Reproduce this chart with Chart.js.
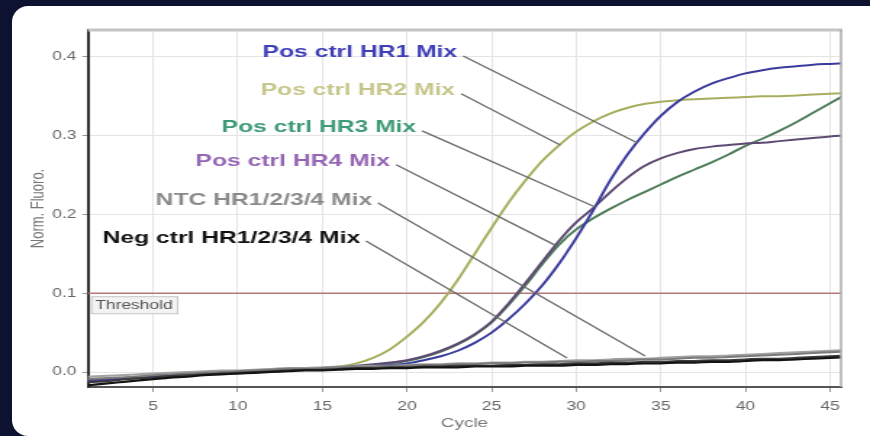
<!DOCTYPE html>
<html>
<head>
<meta charset="utf-8">
<script src="https://cdn.jsdelivr.net/npm/chart.js@4.4.1/dist/chart.umd.min.js"></script>
<style>
  html, body { margin: 0; padding: 0; background: #ffffff; overflow: hidden; }
  /* dark window edge along the left and top, with rounded inner corners */
  .edge { position: fixed; background: #0c1230; }
  #edgeL { left: 0; top: 0; bottom: 0; width: 12px; }
  #edgeT { left: 0; top: 0; right: 0; height: 6px; }
  .corner { position: fixed; width: 18px; height: 18px; background: #0c1230; }
  .corner div { width: 18px; height: 18px; background: #ffffff; }
  #cTL { left: 12px; top: 6px; }
  #cTL div { border-top-left-radius: 16px; }
  #cBL { left: 12px; bottom: 0; }
  #cBL div { border-bottom-left-radius: 16px; }
  /* the plot is laid out on a 600px wide stage and widened to the full panel */
  #stage { position: fixed; left: 0; top: 0; width: 600px; height: 436px; transform: scaleX(1.45); transform-origin: 0 0; }
</style>
</head>
<body>
<div class="edge" id="edgeL"></div>
<div class="edge" id="edgeT"></div>
<div class="corner" id="cTL"><div></div></div>
<div class="corner" id="cBL"><div></div></div>
<div id="stage"><canvas id="c"></canvas></div>
<script>
// ---- data ----------------------------------------------------------------
const cycles = [1,2,3,4,5,6,7,8,9,10,11,12,13,14,15,16,17,18,19,20,21,22,23,24,25,26,27,28,29,30,31,32,33,34,35,36,37,38,39,40,41,42,43,44,45,46];

const posHR1 = [-0.012,-0.011,-0.009,-0.008,-0.006,-0.005,-0.004,-0.003,-0.002,-0.001,
  0.000,0.001,0.002,0.003,0.004,0.005,0.006,0.008,0.009,0.011,
  0.015,0.020,0.027,0.037,0.050,0.067,0.087,0.110,0.138,0.170,
  0.205,0.243,0.275,0.302,0.325,0.343,0.356,0.366,0.373,0.379,
  0.383,0.386,0.388,0.390,0.391,0.392];

const posHR2 = [-0.011,-0.010,-0.008,-0.007,-0.005,-0.004,-0.003,-0.002,-0.001,0.000,
  0.001,0.002,0.003,0.004,0.005,0.007,0.011,0.018,0.029,0.045,
  0.064,0.088,0.117,0.150,0.183,0.215,0.243,0.268,0.288,0.305,
  0.318,0.328,0.335,0.340,0.343,0.345,0.346,0.347,0.348,0.349,
  0.350,0.350,0.351,0.352,0.353,0.354];

const posHR3 = [-0.010,-0.009,-0.008,-0.006,-0.005,-0.004,-0.003,-0.002,-0.001,0.000,
  0.001,0.002,0.003,0.004,0.005,0.006,0.007,0.009,0.011,0.014,
  0.019,0.026,0.035,0.047,0.063,0.085,0.110,0.137,0.162,0.181,
  0.195,0.207,0.218,0.228,0.238,0.248,0.257,0.266,0.276,0.287,
  0.296,0.306,0.317,0.329,0.341,0.353];

const posHR4 = [-0.011,-0.010,-0.008,-0.007,-0.005,-0.004,-0.003,-0.002,-0.001,0.000,
  0.001,0.002,0.003,0.004,0.005,0.006,0.008,0.010,0.012,0.015,
  0.020,0.027,0.036,0.048,0.064,0.087,0.113,0.140,0.167,0.190,
  0.208,0.228,0.246,0.261,0.271,0.278,0.283,0.286,0.288,0.290,
  0.291,0.293,0.295,0.297,0.299,0.300];

const ntcA = [-0.009,-0.008,-0.007,-0.006,-0.004,-0.003,-0.002,-0.001,0.000,0.001,
  0.002,0.003,0.004,0.004,0.005,0.006,0.006,0.007,0.008,0.008,
  0.009,0.009,0.010,0.010,0.011,0.011,0.012,0.012,0.013,0.013,
  0.014,0.014,0.015,0.016,0.016,0.017,0.018,0.018,0.019,0.020,
  0.021,0.022,0.023,0.024,0.025,0.026];

const ntcB = [-0.006,-0.005,-0.004,-0.003,-0.002,-0.001,0.000,0.001,0.002,0.002,
  0.003,0.004,0.005,0.005,0.006,0.007,0.007,0.008,0.008,0.009,
  0.010,0.010,0.011,0.011,0.012,0.012,0.013,0.013,0.014,0.015,
  0.015,0.016,0.017,0.017,0.018,0.019,0.020,0.020,0.021,0.022,
  0.023,0.024,0.025,0.026,0.027,0.028];

const negA = [-0.017,-0.015,-0.013,-0.011,-0.009,-0.007,-0.006,-0.004,-0.003,-0.002,
  -0.001,0.000,0.001,0.002,0.002,0.003,0.004,0.004,0.005,0.005,
  0.006,0.006,0.006,0.007,0.007,0.007,0.008,0.008,0.008,0.009,
  0.009,0.010,0.010,0.011,0.011,0.012,0.012,0.013,0.013,0.014,
  0.015,0.015,0.016,0.017,0.018,0.019];

const negB = [-0.013,-0.012,-0.010,-0.008,-0.007,-0.005,-0.004,-0.003,-0.002,-0.001,
  0.000,0.001,0.002,0.003,0.003,0.004,0.005,0.005,0.006,0.006,
  0.007,0.007,0.008,0.008,0.008,0.009,0.009,0.010,0.010,0.011,
  0.011,0.012,0.012,0.013,0.013,0.014,0.014,0.015,0.015,0.016,
  0.017,0.017,0.018,0.019,0.020,0.021];

const xTicks = [5,10,15,20,25,30,35,40,45];
const xTickLabels = ['5','10','15','20','25','30','35','40','45'];
const yTicks = [0.0,0.1,0.2,0.3,0.4];
const yTickLabels = ['0.0','0.1','0.2','0.3','0.4'];

const THRESHOLD = 0.1;
const thresholdLabel = 'Threshold';

const seriesNames = ['Pos ctrl HR1 Mix','Pos ctrl HR2 Mix','Pos ctrl HR3 Mix','Pos ctrl HR4 Mix','NTC HR1/2/3/4 Mix','Neg ctrl HR1/2/3/4 Mix'];

// ---- callout placement (data units) -------------------------------------
const callouts = [
  { text: seriesNames[0], color: '#3d3db6', at: [22.96, 0.406], from: [23.32, 0.401], to: [33.60, 0.291] },
  { text: seriesNames[1], color: '#c6c68a', at: [22.84, 0.358], from: [23.20, 0.353], to: [29.05, 0.288] },
  { text: seriesNames[2], color: '#3f9a76', at: [20.54, 0.310], from: [20.89, 0.306], to: [31.12, 0.2095] },
  { text: seriesNames[3], color: '#9466b4', at: [19.00, 0.267], from: [19.36, 0.263], to: [28.75, 0.161] },
  { text: seriesNames[4], color: '#8a8a8a', at: [17.94, 0.218], from: [18.29, 0.2146], to: [34.07, 0.0203] },
  { text: seriesNames[5], color: '#111111', at: [17.23, 0.170], from: [17.58, 0.1663], to: [29.46, 0.0178] }
];

const FONT = '"Liberation Sans", Arial, Helvetica, sans-serif';

function pts(vals) { return cycles.map((c, i) => ({ x: c, y: vals[i] })); }
function line(label, vals, color, width) {
  return { label, data: pts(vals), borderColor: color, borderWidth: width, pointRadius: 0,
           fill: false, cubicInterpolationMode: 'monotone' };
}

const overlay = {
  id: 'overlay',
  beforeDatasetsDraw(chart) {
    const { ctx, chartArea: a, scales: { y } } = chart;
    const ty = y.getPixelForValue(THRESHOLD);
    ctx.save();
    ctx.strokeStyle = '#b47878';
    ctx.lineWidth = 1.5;
    ctx.beginPath(); ctx.moveTo(a.left, ty); ctx.lineTo(a.right, ty); ctx.stroke();
    ctx.font = '12px ' + FONT;
    const w = ctx.measureText(thresholdLabel).width;
    const bx = a.left + 2, by = ty + 3, bh = 17;
    ctx.fillStyle = '#f3f3f3';
    ctx.fillRect(bx, by, w + 6, bh);
    ctx.strokeStyle = '#c6c6c6';
    ctx.lineWidth = 1;
    ctx.strokeRect(bx + 0.5, by + 0.5, w + 6, bh);
    ctx.fillStyle = '#555';
    ctx.textAlign = 'left';
    ctx.textBaseline = 'middle';
    ctx.fillText(thresholdLabel, bx + 3, by + bh / 2 + 0.5);
    ctx.restore();
  },
  afterDatasetsDraw(chart) {
    const { ctx, chartArea: a, scales: { x, y } } = chart;
    ctx.save();
    // frame: heavy top rule and thin right edge
    ctx.strokeStyle = '#c4c4c4';
    ctx.lineWidth = 3;
    ctx.beginPath(); ctx.moveTo(a.left, a.top); ctx.lineTo(a.right + 1, a.top); ctx.stroke();
    ctx.strokeStyle = '#aaaaaa';
    ctx.lineWidth = 1.5;
    ctx.beginPath(); ctx.moveTo(a.right, a.top); ctx.lineTo(a.right, a.bottom); ctx.stroke();
    // callout leader lines
    ctx.strokeStyle = '#6a6a6a';
    ctx.lineWidth = 1.3;
    callouts.forEach(c => {
      ctx.beginPath();
      ctx.moveTo(x.getPixelForValue(c.from[0]), y.getPixelForValue(c.from[1]));
      ctx.lineTo(x.getPixelForValue(c.to[0]), y.getPixelForValue(c.to[1]));
      ctx.stroke();
    });
    // callout labels
    ctx.font = 'bold 17px ' + FONT;
    ctx.textAlign = 'right';
    ctx.textBaseline = 'middle';
    callouts.forEach(c => {
      ctx.fillStyle = c.color;
      ctx.fillText(c.text, x.getPixelForValue(c.at[0]), y.getPixelForValue(c.at[1]));
    });
    ctx.restore();
  }
};

new Chart(document.getElementById('c'), {
  type: 'line',
  data: {
    datasets: [
      line(seriesNames[5], negA, '#141414', 2.2),
      line(seriesNames[5], negB, '#3a3a3a', 2),
      line(seriesNames[4], ntcA, '#7a7a7a', 2),
      line(seriesNames[4], ntcB, '#a2a2a2', 2),
      line(seriesNames[0], posHR1, '#3b3b9e', 2),
      line(seriesNames[3], posHR4, '#5e4a72', 2),
      line(seriesNames[2], posHR3, '#4f7d5c', 2),
      line(seriesNames[1], posHR2, '#a8ae5e', 2)
    ]
  },
  options: {
    responsive: true,
    maintainAspectRatio: false,
    animation: false,
    events: [],
    layout: { padding: { left: 19, right: 20, top: 30, bottom: 0 } },
    plugins: { legend: { display: false }, tooltip: { enabled: false }, title: { display: false } },
    scales: {
      x: {
        type: 'linear', min: 1.15, max: 45.65,
        afterBuildTicks: s => { s.ticks = xTicks.map(v => ({ value: v })); },
        afterFit: s => { s.height = 49; },
        grid: { color: '#e4e4e4', lineWidth: 1, drawTicks: true, tickLength: 5, tickColor: '#9a9a9a' },
        border: { display: true, color: '#555555', width: 2 },
        ticks: { color: '#666', font: { size: 12, family: FONT }, padding: 7, maxRotation: 0, autoSkip: false,
                 callback: (v, i) => xTickLabels[i] },
        title: { display: true, text: 'Cycle', color: '#777', font: { size: 13, family: FONT },
                 padding: { top: 0, bottom: 4.7 } }
      },
      y: {
        type: 'linear', min: -0.019, max: 0.434,
        afterBuildTicks: s => { s.ticks = yTicks.map(v => ({ value: v })); },
        afterFit: s => { s.width = 41.7; },
        grid: { color: '#e4e4e4', lineWidth: 1, drawTicks: true, tickLength: 4, tickColor: '#9a9a9a' },
        border: { display: true, color: '#333333', width: 2 },
        ticks: { color: '#666', font: { size: 12, family: FONT }, padding: 4,
                 callback: (v, i) => yTickLabels[i] },
        title: { display: true, text: 'Norm. Fluoro.', color: '#777', font: { size: 13, family: FONT },
                 padding: { top: 0, bottom: 0 } }
      }
    }
  },
  plugins: [overlay]
});
</script>
</body>
</html>
